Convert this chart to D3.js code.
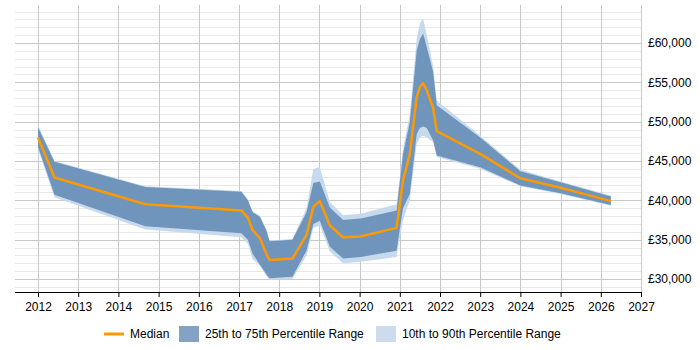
<!DOCTYPE html>
<html>
<head>
<meta charset="utf-8">
<script src="https://cdn.jsdelivr.net/npm/d3@7"></script>
<style>
body { margin: 0; background: #fff; }
svg text { font-family: "Liberation Sans", Arial, sans-serif; }
</style>
</head>
<body>
<div class="container"></div>
<script>
const wd = 700
const ht = 350

// data (decimal years)
const years = [2012.0, 2012.41, 2014.67, 2017.06, 2017.22, 2017.34, 2017.52, 2017.68, 2017.76, 2018.33,
  2018.68, 2018.85, 2019.01, 2019.26, 2019.59, 2020.03, 2020.92, 2021.08, 2021.25, 2021.42,
  2021.5, 2021.58, 2021.67, 2021.83, 2021.92, 2023.0, 2024.0, 2025.0, 2026.25]
const p10 = [46500, 40400, 36300, 35300, 34500, 32500, 31700, 30400, 29900, 30000,
  33000, 36500, 36800, 33500, 32000, 32200, 32800, 37500, 40000, 47200,
  48000, 48200, 48000, 47400, 45500, 44000, 41800, 40800, 39300]
const p25 = [46800, 40700, 36700, 35800, 35000, 33200, 31800, 30600, 30100, 30300,
  33600, 37000, 37400, 34100, 32600, 32800, 33600, 39000, 40800, 48400,
  49200, 49400, 49200, 47600, 45700, 44200, 41900, 40900, 39400]
const median = [48000, 42900, 39500, 38700, 37800, 36200, 35200, 33200, 32400, 32600,
  35600, 39200, 39900, 36800, 35300, 35400, 36500, 42500, 45900, 53100,
  54400, 54900, 54000, 51700, 48800, 45900, 42800, 41600, 39900]
const p75 = [49300, 44900, 41700, 41100, 40000, 38500, 37900, 36200, 34800, 35000,
  38500, 42200, 42400, 39100, 37500, 37700, 38700, 45900, 50000, 59000,
  60500, 61200, 59500, 56300, 52100, 48000, 43700, 42300, 40500]
const p90 = [49500, 45000, 41800, 41200, 40100, 38600, 38000, 36300, 34900, 35100,
  39000, 44000, 44200, 39800, 38100, 38300, 39500, 46500, 51000, 60500,
  62500, 63100, 61000, 57000, 52700, 48200, 43900, 42400, 40600]

const xTicks = d3.range(2012, 2028)
const yTicks = [30000, 35000, 40000, 45000, 50000, 55000, 60000]
const legendItems = ["Median", "25th to 75th Percentile Range", "10th to 90th Percentile Range"]

const svgC = d3.select(".container")
.append("svg")
.attr("width", wd)
.attr("height", ht)

const pLeft = 15, pRight = 641, pTop = 5, pBottom = 292

const x = d3.scaleLinear().domain([2012, 2027]).range([38, 641])
const y = d3.scaleLinear().domain([30000, 60000]).range([279, 43])

const pts = years.map((d, i) => ({ yr: d, p10: p10[i], p25: p25[i], med: median[i], p75: p75[i], p90: p90[i] }))

// grid
const minor = d3.range(29000, 65001, 1000).filter(v => y(v) >= pTop && y(v) <= pBottom)
svgC.append("g")
.selectAll("line")
.data(minor)
.enter()
.append("line")
.attr("x1", pLeft).attr("x2", pRight)
.attr("y1", d => Math.round(y(d)) + 0.5).attr("y2", d => Math.round(y(d)) + 0.5)
.style("stroke", d => d % 5000 == 0 ? "#c8c8c8" : "#e8e8e8")
.style("stroke-width", 1)

svgC.append("g")
.selectAll("line")
.data(xTicks)
.enter()
.append("line")
.attr("x1", d => Math.round(x(d)) + 0.5).attr("x2", d => Math.round(x(d)) + 0.5)
.attr("y1", pTop).attr("y2", pBottom)
.style("stroke", "#c8c8c8")

// bands
const area = (lo, hi) => d3.area()
.x(d => x(d.yr))
.y0(d => y(d[lo]))
.y1(d => y(d[hi]))

svgC.append("path")
.attr("d", area("p10", "p90")(pts))
.attr("fill", "#c6d9ed")

svgC.append("path")
.attr("d", area("p25", "p75")(pts))
.attr("fill", "#7095bd")

const lineFunc = d3.line()
.x(d => x(d.yr))
.y(d => y(d.med))

svgC.append("path")
.attr("d", lineFunc(pts))
.attr("fill", "none")
.style("stroke", "#ff9900")
.style("stroke-width", "2.5px")
.style("stroke-linejoin", "round")

// x axis
const xAxis = svgC.append("g")
.attr("transform", `translate(0,${pBottom})`)
.call(d3.axisBottom(x).tickValues(xTicks).tickFormat(d3.format("d")).tickSize(5).tickSizeOuter(0))
xAxis.select(".domain").attr("d", `M${pLeft},0.5H${pRight}`).style("stroke", "#000")
xAxis.selectAll(".tick line").style("stroke", "#000")
xAxis.selectAll("text").style("font-size", "12px").style("fill", "#000").attr("dy", "0.9em")

// y labels on the right
svgC.append("g")
.selectAll("text")
.data(yTicks)
.enter()
.append("text")
.attr("x", 648)
.attr("y", d => y(d))
.attr("dy", "0.35em")
.style("font-size", "12px")
.style("fill", "#000")
.text(d => "£" + d3.format(",")(d))

// legend
const lg = svgC.append("g")
lg.append("line")
.attr("x1", 104).attr("x2", 124).attr("y1", 334).attr("y2", 334)
.style("stroke", "#ff9900").style("stroke-width", 3)
lg.append("rect").attr("x", 179).attr("y", 326).attr("width", 20).attr("height", 16).attr("fill", "#84a2c4")
lg.append("rect").attr("x", 376).attr("y", 326).attr("width", 20).attr("height", 16).attr("fill", "#cddcec")
const lx = [130, 205, 402]
lg.selectAll("text.lg")
.data(legendItems)
.enter()
.append("text")
.attr("x", (d, i) => lx[i])
.attr("y", 334)
.attr("dy", "0.35em")
.style("font-size", "12px")
.style("fill", "#000")
.text(d => d)
</script>
</body>
</html>
